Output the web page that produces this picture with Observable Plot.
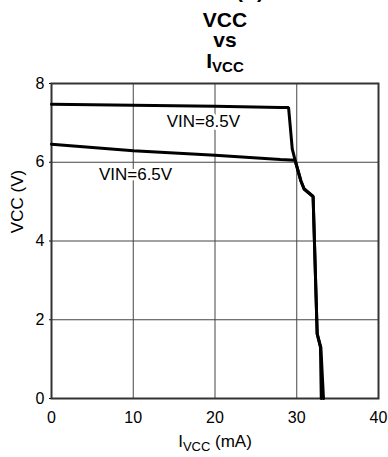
<!DOCTYPE html>
<html>
<head>
<meta charset="utf-8">
<script src="https://cdn.jsdelivr.net/npm/d3@7"></script>
<script src="https://cdn.jsdelivr.net/npm/@observablehq/plot@0.6"></script>
<style>
  html, body { margin: 0; padding: 0; background: #fff; }
  #title { position: relative; width: 388px; height: 75px; overflow: hidden;
           font: bold 21px "Liberation Sans", Arial, sans-serif; color: #000; }
  #title .l { position: absolute; left: 0; width: 450px; text-align: center; line-height: 21px; white-space: nowrap; }
  #title .sub { font-size: 15px; position: relative; top: 4px; }
</style>
</head>
<body>
<div id="title">
  <div class="l" style="top:-20px">VCC (V)</div>
  <div class="l" style="top:9px">VCC</div>
  <div class="l" style="top:29px">vs</div>
  <div class="l" style="top:50px">I<span class="sub">VCC</span></div>
</div>
<div id="chart"></div>
<script>
// Tick values
const xTicks = [0, 10, 20, 30, 40];
const yTicks = [0, 2, 4, 6, 8];

// VIN = 8.5 V curve (I_VCC in mA, VCC in V)
const vin85I = [0, 20, 28, 29.0, 29.45, 29.8, 30.5, 30.9, 32.0, 32.5, 32.95, 33.27];
const vin85V = [7.47, 7.42, 7.39, 7.39, 6.34, 6.05, 5.53, 5.32, 5.13, 1.64, 1.3, 0];

// VIN = 6.5 V curve
const vin65I = [0, 10, 20, 28, 29.8, 30.5, 30.9, 32.0, 32.5, 32.9, 33.0];
const vin65V = [6.46, 6.29, 6.18, 6.07, 6.05, 5.53, 5.32, 5.13, 1.64, 1.3, 0];

// Curve labels
const labelText = ["VIN=8.5V", "VIN=6.5V"];
const labelI = [14.1, 5.8];
const labelV = [7.03, 5.69];

const series = [
  ...vin85I.map((x, i) => ({ x, y: vin85V[i], s: "8.5" })),
  ...vin65I.map((x, i) => ({ x, y: vin65V[i], s: "6.5" }))
];
const labels = labelText.map((t, i) => ({ t, x: labelI[i], y: labelV[i] }));

const font = '"Liberation Sans", Arial, sans-serif';

const plot = Plot.plot({
  width: 388,
  height: 382,
  marginTop: 8,
  marginBottom: 59,
  marginLeft: 51,
  marginRight: 10,
  style: { fontFamily: font, fontSize: "16px", color: "#000", background: "#fff", overflow: "visible" },
  x: { domain: [0, 40], ticks: xTicks, tickSize: 0, tickPadding: 13, label: null },
  y: { domain: [0, 8], ticks: yTicks, tickSize: 2, tickPadding: 5, label: null },
  marks: [
    Plot.ruleX(xTicks, { stroke: "#444", strokeWidth: 1 }),
    Plot.ruleY(yTicks, { stroke: "#444", strokeWidth: 1 }),
    Plot.frame({ stroke: "#333", strokeWidth: 2 }),
    Plot.line(series, { x: "x", y: "y", z: "s", stroke: "#000", strokeWidth: 3, strokeLinejoin: "miter", curve: "linear" }),
    Plot.text(labels, { x: "x", y: "y", text: "t", textAnchor: "start", fontSize: 17, fill: "#000",
                        stroke: "#fff", strokeWidth: 6, paintOrder: "stroke" }),
    Plot.text(["VCC (V)"], { frameAnchor: "left", y: [4.2], dx: -34, rotate: -90, fontSize: 17, fill: "#000" }),
    Plot.text(["XLABEL"], { frameAnchor: "bottom", dy: 48, fontSize: 17, fill: "#000" })
  ]
});

document.getElementById("chart").appendChild(plot);

// x-axis label with subscript
d3.select(plot).selectAll("text").filter(function () { return this.textContent === "XLABEL"; })
  .each(function () {
    const t = d3.select(this);
    t.text(null);
    t.append("tspan").text("I");
    t.append("tspan").attr("font-size", 13).attr("dy", 4).text("VCC");
    t.append("tspan").attr("dy", -4).text(" (mA)");
  });
</script>
</body>
</html>
